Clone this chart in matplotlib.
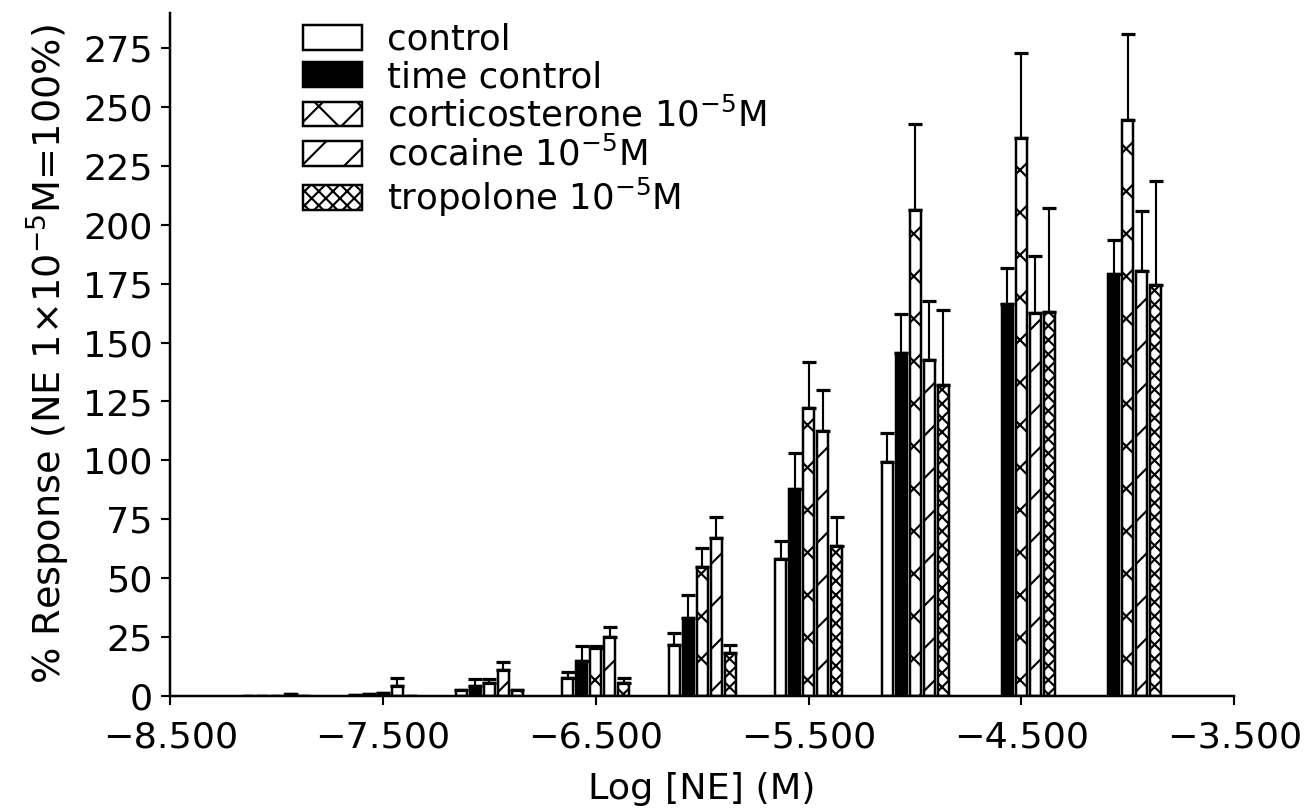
# coding: utf-8

"""
Grouped bar chart: % response to NE under the different treatments.
"""

import numpy as np
import matplotlib
matplotlib.use('Agg')
import matplotlib.pyplot as plt
from matplotlib.ticker import FuncFormatter

# log [NE] of each group of bars
log_ne = [-8.0, -7.5, -7.0, -6.5, -6.0, -5.5, -5.0, -4.5, -4.0]

# mean response (%), nan where the condition was not measured
control = [0.0, 0.3, 2.5, 7.6, 21.6, 58.0, 99.3, np.nan, np.nan]
time_control = [0.0, 0.8, 4.2, 14.9, 33.0, 87.9, 145.6, 166.5, 179.0]
corticosterone = [0.0, 1.0, 5.5, 20.4, 54.8, 122.0, 206.4, 237.0, 244.4]
cocaine = [0.8, 4.0, 11.0, 25.0, 67.0, 112.5, 142.6, 162.6, 180.5]
tropolone = [0.0, 0.0, 2.5, 5.5, 18.3, 63.7, 132.0, 163.0, 174.5]

# upper error bars (sem)
control_err = [0, 0, 0, 2.6, 5.1, 7.8, 12.3, np.nan, np.nan]
time_control_err = [0, 0, 3.0, 6.3, 9.9, 15.1, 16.4, 15.3, 14.4]
corticosterone_err = [0, 0, 1.7, 0.6, 8.0, 19.8, 36.4, 36.0, 36.6]
cocaine_err = [0, 3.4, 3.5, 4.3, 9.0, 17.5, 25.2, 24.2, 25.5]
tropolone_err = [0, 0, 0, 2.1, 3.3, 12.3, 32.0, 44.2, 43.9]

series_labels = ['control', 'time control',
                 r'corticosterone 10$^{-5}$M',
                 r'cocaine 10$^{-5}$M',
                 r'tropolone 10$^{-5}$M']

y_ticks = list(range(0, 276, 25))
x_ticks = [-8.5, -7.5, -6.5, -5.5, -4.5, -3.5]


def main():
    # dpi picked so the hatch lattice lines up with the bar centres
    dpi = 255.36
    fw, fh = 1309.2, 811.2

    plt.rcParams['font.family'] = ['DejaVu Sans']
    plt.rcParams['font.size'] = 10.3
    plt.rcParams['mathtext.default'] = 'regular'
    plt.rcParams['hatch.color'] = 'black'
    plt.rcParams['hatch.linewidth'] = 0.6

    fig = plt.figure(figsize=(fw / dpi, fh / dpi), dpi=dpi)
    left, right = 170.24, 1234.24
    ax = fig.add_axes([left / fw, 1 - 696 / fh,
                       (right - left) / fw, (696 - 13) / fh])

    means = [control, time_control, corticosterone, cocaine, tropolone]
    errors = [control_err, time_control_err, corticosterone_err,
              cocaine_err, tropolone_err]
    faces = ['white', 'black', 'white', 'white', 'white']
    hatches = [None, None, 'xx', '//', 'xxxxxx']

    unit_px = (right - left) / 5.0
    x = np.array(log_ne)
    step = 14 / unit_px
    bar_width = 11 / unit_px

    for idx in range(len(means)):
        pos = x + (idx - 2) * step
        vals = np.array(means[idx], dtype=float)
        err = np.array(errors[idx], dtype=float)
        keep = ~np.isnan(vals)
        ax.bar(pos[keep], vals[keep], bar_width,
               color=faces[idx], edgecolor='black', hatch=hatches[idx],
               linewidth=0.7, label=series_labels[idx], zorder=2)
        err = np.where(err > 0, err, np.nan)
        ax.errorbar(pos[keep], vals[keep],
                    yerr=[np.zeros(keep.sum()), err[keep]],
                    fmt='none', ecolor='black', elinewidth=0.6,
                    capsize=2.0, capthick=0.9, zorder=3)

    ax.set_xlim(-8.5, -3.5)
    ax.set_ylim(0, 290)
    ax.set_xticks(x_ticks)
    ax.xaxis.set_major_formatter(
        FuncFormatter(lambda v, p: '{:.3f}'.format(v).replace('-', '\u2212')))
    ax.set_yticks(y_ticks)

    for side in ['top', 'right']:
        ax.spines[side].set_visible(False)
    for side in ['left', 'bottom']:
        ax.spines[side].set_linewidth(0.7)
    ax.tick_params(axis='both', direction='out', length=2.4, width=0.6)
    ax.tick_params(axis='y', pad=2.5)
    ax.tick_params(axis='x', pad=4.5)

    ax.set_xlabel('Log [NE] (M)', labelpad=5)
    ax.set_ylabel(r'% Response (NE 1×10$^{-5}$M=100%)', fontsize=10.8,
                  labelpad=3)

    fig.legend(loc='upper left',
               bbox_to_anchor=(303 / fw, 1 - 23 / fh),
               frameon=False, borderpad=0, borderaxespad=0, fontsize=10,
               handlelength=1.65, handleheight=0.7, handletextpad=0.72,
               labelspacing=0.09)

    fig.savefig('out.png', dpi=dpi)


main()
